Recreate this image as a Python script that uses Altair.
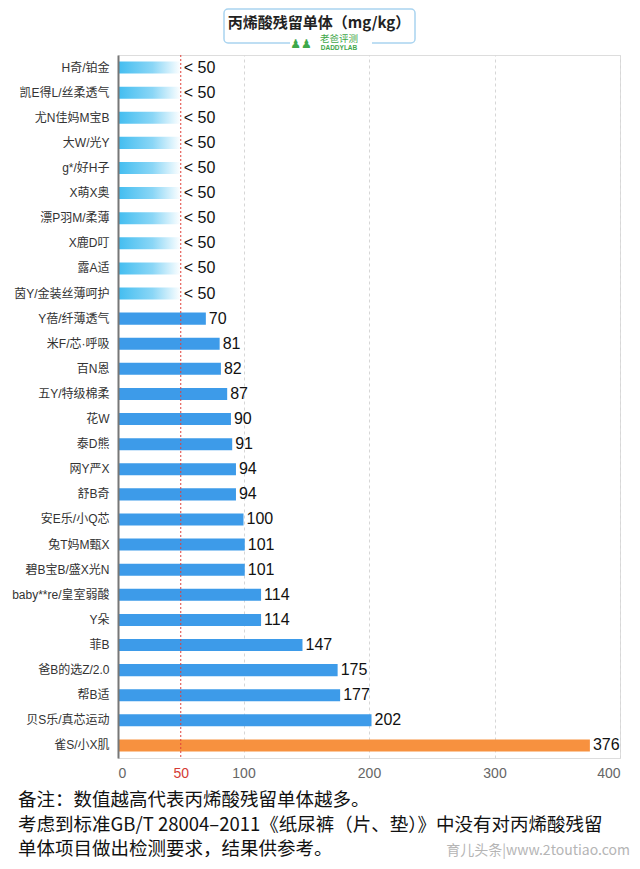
import altair as alt
import pandas as pd

# ---- data ----
brands = [
    "H奇/铂金", "凯E得L/丝柔透气", "尤N佳妈M宝B", "大W/光Y", "g*/好H子", "X萌X奥",
    "漂P羽M/柔薄", "X鹿D叮", "露A适", "茵Y/金装丝薄呵护",
    "Y蓓/纤薄透气", "米F/芯·呼吸", "百N恩", "五Y/特级棉柔", "花W", "泰D熊",
    "网Y严X", "舒B奇", "安E乐/小Q芯", "兔T妈M甄X", "碧B宝B/盛X光N",
    "baby**re/皇室弱酸", "Y朵", "菲B", "爸B的选Z/2.0", "帮B适", "贝S乐/真芯运动", "雀S/小X肌",
]
values = [50, 50, 50, 50, 50, 50, 50, 50, 50, 50,
          70, 81, 82, 87, 90, 91, 94, 94, 100, 101, 101, 114, 114, 147, 175, 177, 202, 376]
labels = ["< 50"] * 10 + [str(v) for v in values[10:]]
groups = ["below"] * 10 + ["normal"] * 17 + ["max"]

x_ticks = [0, 50, 100, 200, 300, 400]
threshold = [50]

title_text = "丙烯酸残留单体（mg/kg）"
logo_cn = "老爸评测"
logo_en = "DADDYLAB"
notes = [
    "备注：数值越高代表丙烯酸残留单体越多。",
    "考虑到标准GB/T 28004–2011《纸尿裤（片、垫）》中没有对丙烯酸残留",
    "单体项目做出检测要求，结果供参考。",
]
watermark = "育儿头条|www.2toutiao.com"

df = pd.DataFrame({"brand": brands, "value": values, "label": labels, "group": groups})

FONT = "Liberation Sans, Noto Sans CJK SC, sans-serif"
CJK = "Noto Sans CJK SC, sans-serif"

W, H = 502, 703

xscale = alt.Scale(domain=[0, 400], nice=False)
yscale = alt.Scale(domain=brands, paddingInner=0.52, paddingOuter=0.26)

y_enc = alt.Y("brand:N", sort=None, scale=yscale,
              axis=alt.Axis(title=None, labelFont=FONT, labelFontSize=12, labelColor="#333",
                            labelPadding=9, ticks=False, domain=True, domainColor="#777",
                            domainWidth=2, labelLimit=200, zindex=1))

x_enc = alt.X("value:Q", scale=xscale,
              axis=alt.Axis(title=None, values=x_ticks, ticks=False, domain=False,
                            labelFont=FONT, labelFontSize=14, labelPadding=8,
                            labelColor={"condition": {"test": "datum.value == 50", "value": "#d43a35"},
                                        "value": "#666"},
                            grid=True, gridColor="#d6d6d6", gridDash=[3, 3],
                            gridOpacity={"condition": {"test": "datum.value == 50 || datum.value == 0",
                                                       "value": 0},
                                         "value": 1}))

base = alt.Chart(df)

grad = alt.LinearGradient(
    gradient="linear", x1=0, x2=1, y1=0, y2=0,
    stops=[alt.GradientStop(color="#42bdf0", offset=0),
           alt.GradientStop(color="#8ad6f6", offset=0.55),
           alt.GradientStop(color="#ffffff", offset=1)])

bars_below = base.transform_filter("datum.group == 'below'").mark_bar(color=grad).encode(
    x=x_enc, y=y_enc)
bars_normal = base.transform_filter("datum.group == 'normal'").mark_bar(color="#3d9be9").encode(
    x=x_enc, y=y_enc)
bars_max = base.transform_filter("datum.group == 'max'").mark_bar(color="#f7913f").encode(
    x=x_enc, y=y_enc)

value_text = base.mark_text(align="left", baseline="middle", dx=3, font=FONT,
                            fontSize=16, color="#111").encode(
    x=alt.X("value:Q", scale=xscale), y=alt.Y("brand:N", sort=None, scale=yscale),
    text="label:N")

rule = alt.Chart(pd.DataFrame({"t": threshold})).mark_rule(
    color="#e0403a", strokeDash=[2, 2], strokeWidth=1).encode(
    x=alt.X("t:Q", scale=xscale))

one = pd.DataFrame({"a": [0]})

# title box
box = alt.Chart(one).mark_rect(
    fill="white", stroke="#a9d4f0", strokeWidth=1.5, cornerRadius=4).encode(
    x=alt.value(106), x2=alt.value(297), y=alt.value(-46), y2=alt.value(-12))
logo_bg = alt.Chart(one).mark_rect(fill="white").encode(
    x=alt.value(172), x2=alt.value(254), y=alt.value(-19), y2=alt.value(-4))
title_mark = alt.Chart(one).mark_text(
    text=title_text, font=CJK, fontSize=15, fontWeight="bold", color="#222",
    align="center", baseline="middle").encode(x=alt.value(201), y=alt.value(-32))
logo1 = alt.Chart(one).mark_text(
    text=logo_cn, font=CJK, fontSize=9.5, color="#3fa84a", align="center",
    baseline="middle").encode(x=alt.value(221), y=alt.value(-16.5))
logo2 = alt.Chart(one).mark_text(
    text=logo_en, font=FONT, fontSize=6.5, fontWeight="bold", color="#3fa84a", align="center",
    baseline="middle").encode(x=alt.value(221), y=alt.value(-7))
logo_icon = alt.Chart(one).mark_text(
    text="♟♟", font="DejaVu Sans", fontSize=12, color="#3fa84a", align="center",
    baseline="middle").encode(x=alt.value(183), y=alt.value(-11))

note_y = [745, 770, 794]
note_layers = [
    alt.Chart(one).mark_text(text=t, font=CJK, fontSize=18.5, color="#111", align="left",
                             baseline="middle").encode(x=alt.value(-100), y=alt.value(yy))
    for t, yy in zip(notes, note_y)
]

wm = alt.Chart(one).mark_text(
    text=watermark, font=CJK, fontSize=14, color="#b5b5b5", align="right",
    baseline="middle").encode(x=alt.value(512), y=alt.value(796))

chart = alt.layer(
    bars_below, bars_normal, bars_max, rule, value_text,
    box, logo_bg, title_mark, logo1, logo2, logo_icon, *note_layers, wm
).properties(
    width=W, height=H,
    autosize=alt.AutoSizeParams(type="none"),
    padding={"left": 110, "top": 47, "right": 12, "bottom": 103},
).configure_view(stroke=None).configure(background="white")

chart.save("out.html", embed_options={"renderer": "svg", "actions": False})
